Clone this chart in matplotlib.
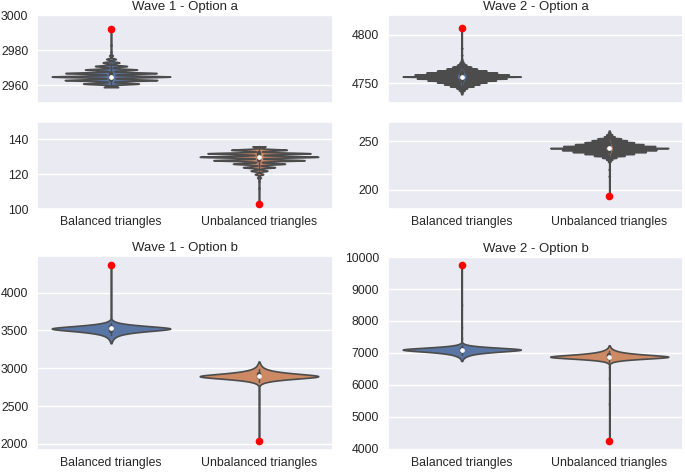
import numpy as np
import pandas as pd
import matplotlib
matplotlib.use("Agg")
import matplotlib.pyplot as plt
import seaborn as sns

# ---------------- data (value -> frequency) ----------------
categories = ["Balanced triangles", "Unbalanced triangles"]
palette_colors = ["#4C72B0", "#DD8452"]

# Wave 1 - Option a
w1a_bal_values = [2959, 2961, 2963, 2965, 2967, 2969, 2971, 2973, 2975, 2977, 2979, 2983, 2992]
w1a_bal_counts = [12, 47, 78, 100, 77, 44, 27, 14, 8, 3, 1, 1, 1]
w1a_unb_values = [103, 112, 116, 118, 120, 122, 124, 126, 128, 130, 132, 134, 136]
w1a_unb_counts = [1, 1, 1, 3, 7, 14, 27, 44, 77, 100, 87, 47, 11]
w1a_observed = [2992, 103]

# Wave 2 - Option a
w2a_bal_values = [4739, 4741, 4743, 4745, 4747, 4749, 4751, 4753, 4755, 4757, 4759,
                  4761, 4763, 4765, 4767, 4769, 4771, 4773, 4775, 4779, 4786, 4807]
w2a_bal_counts = [1, 2, 5, 9, 20, 30, 42, 58, 76, 100, 80, 60, 42, 26, 16, 8, 4, 2, 1, 1, 1, 1]
w2a_unb_values = [193, 214, 221, 229, 231, 233, 235, 237, 239, 241, 243, 245, 247,
                  249, 251, 253, 255, 257, 259, 261]
w2a_unb_counts = [1, 1, 1, 2, 5, 12, 26, 42, 62, 80, 100, 78, 58, 42, 30, 20, 9, 5, 2, 1]
w2a_observed = [4807, 193]

# Wave 1 - Option b
w1b_bal_values = [3330, 3345, 3360, 3375, 3390, 3405, 3420, 3435, 3450, 3465, 3480, 3495,
                  3510, 3525, 3540, 3555, 3570, 3585, 3600, 3615, 3630, 3645,
                  3700, 3820, 3980, 4366]
w1b_bal_counts = [1, 1, 2, 3, 4, 6, 9, 13, 20, 30, 45, 65, 88, 100, 85, 60, 38, 22, 12, 6, 3, 1,
                  1, 1, 1, 1]
w1b_unb_values = [2036, 2440, 2600, 2720,
                  2773, 2788, 2803, 2818, 2833, 2848, 2863, 2878, 2893, 2908, 2923, 2938,
                  2953, 2968, 2983, 2998, 3013, 3028, 3043, 3058, 3073, 3088]
w1b_unb_counts = [1, 1, 1, 1,
                  1, 3, 6, 12, 22, 38, 60, 85, 100, 88, 65, 45, 30, 20, 13, 9, 6, 4, 3, 2, 1, 1]
w1b_observed = [4366, 2036]

# Wave 2 - Option b
w2b_bal_values = [6745, 6775, 6805, 6835, 6865, 6895, 6925, 6955, 6985, 7015, 7045, 7075,
                  7105, 7135, 7165, 7195, 7225, 7255, 7285, 7315, 7450, 7800, 8500, 9750]
w2b_bal_counts = [1, 1, 2, 3, 5, 8, 12, 18, 28, 42, 62, 85, 100, 80, 52, 30, 15, 7, 3, 1,
                  1, 1, 1, 1]
w2b_unb_values = [4230, 5400, 6200, 6560,
                  6665, 6695, 6725, 6755, 6785, 6815, 6845, 6875, 6905, 6935, 6965, 6995,
                  7025, 7055, 7085, 7115, 7145, 7175, 7205, 7235]
w2b_unb_counts = [1, 1, 1, 1,
                  1, 3, 7, 15, 30, 52, 80, 100, 85, 62, 42, 28, 18, 12, 8, 5, 3, 2, 1, 1]
w2b_observed = [9750, 4230]

# axis ticks
w1a_upper_ticks = [2960, 2980, 3000]
w1a_lower_ticks = [100, 120, 140]
w2a_upper_ticks = [4750, 4800]
w2a_lower_ticks = [200, 250]
w1b_ticks = [2000, 2500, 3000, 3500, 4000]
w2b_ticks = [4000, 5000, 6000, 7000, 8000, 9000, 10000]

titles = ["Wave 1 - Option a", "Wave 2 - Option a", "Wave 1 - Option b", "Wave 2 - Option b"]

# ---------------- style ----------------
sns.set_theme(style="darkgrid")
plt.rcParams["font.family"] = ["Liberation Sans", "DejaVu Sans"]

W, H = 685, 472
fig = plt.figure(figsize=(W / 100, H / 100), dpi=100)
TEXT = "#262626"


def add_ax(x0, y0, x1, y1):
    return fig.add_axes([x0 / W, 1 - y1 / H, (x1 - x0) / W, (y1 - y0) / H])


def make_df(bv, bc, uv, uc):
    b = np.repeat(np.asarray(bv, float), bc)
    u = np.repeat(np.asarray(uv, float), uc)
    return pd.DataFrame({
        "type": [categories[0]] * len(b) + [categories[1]] * len(u),
        "value": np.concatenate([b, u]),
    })


def draw(ax, df, bw_units, observed, ylim, ticks, show_x=True):
    std = df.loc[df["type"] == categories[0], "value"].std()
    sns.violinplot(data=df, x="type", y="value", hue="type", order=categories,
                   hue_order=categories, palette=palette_colors, legend=False,
                   inner="box", cut=0, density_norm="width", bw_method=bw_units / std,
                   gridsize=3000, linewidth=1.2, width=0.8, saturation=0.75, ax=ax,
                   inner_kws=dict(box_width=3.2, marker="o"))
    ax.plot([0, 1], observed, linestyle="none", marker="o", color="red", ms=4.5, zorder=10)
    ax.set_ylim(*ylim)
    ax.set_yticks(ticks)
    ax.set_xlim(-0.5, 1.5)
    ax.set_xlabel("")
    ax.set_ylabel("")
    ax.xaxis.grid(False)
    ax.tick_params(axis="both", length=0, labelsize=8.8, colors=TEXT)
    ax.tick_params(axis="y", pad=6.3)
    ax.tick_params(axis="x", pad=5.0)
    if not show_x:
        ax.tick_params(axis="x", labelbottom=False)


df_w1a = make_df(w1a_bal_values, w1a_bal_counts, w1a_unb_values, w1a_unb_counts)
df_w2a = make_df(w2a_bal_values, w2a_bal_counts, w2a_unb_values, w2a_unb_counts)
df_w1b = make_df(w1b_bal_values, w1b_bal_counts, w1b_unb_values, w1b_unb_counts)
df_w2b = make_df(w2b_bal_values, w2b_bal_counts, w2b_unb_values, w2b_unb_counts)

TITLE_SIZE = 9.5
BW_A = 0.4

# Wave 1 - Option a (broken axis)
ax = add_ax(37, 15, 333, 103)
draw(ax, df_w1a, BW_A, w1a_observed, (2950, 3000), w1a_upper_ticks, show_x=False)
ax.set_title(titles[0], fontsize=TITLE_SIZE, pad=3.5, color=TEXT)
ax = add_ax(37, 122, 333, 209)
draw(ax, df_w1a, BW_A, w1a_observed, (100, 150), w1a_lower_ticks)

# Wave 2 - Option a (broken axis)
ax = add_ax(388, 15, 683, 103)
draw(ax, df_w2a, BW_A, w2a_observed, (4730, 4820), w2a_upper_ticks, show_x=False)
ax.set_title(titles[1], fontsize=TITLE_SIZE, pad=3.5, color=TEXT)
ax = add_ax(388, 122, 683, 209)
draw(ax, df_w2a, BW_A, w2a_observed, (180, 270), w2a_lower_ticks)

# Wave 1 - Option b
ax = add_ax(37, 256, 333, 450)
draw(ax, df_w1b, 12, w1b_observed, (1919, 4483), w1b_ticks)
ax.set_title(titles[2], fontsize=TITLE_SIZE, pad=3.8, color=TEXT)

# Wave 2 - Option b
ax = add_ax(388, 257, 683, 450)
draw(ax, df_w2b, 25, w2b_observed, (3955, 10005), w2b_ticks)
ax.set_title(titles[3], fontsize=TITLE_SIZE, pad=3.8, color=TEXT)

fig.savefig("out.png", dpi=100)
